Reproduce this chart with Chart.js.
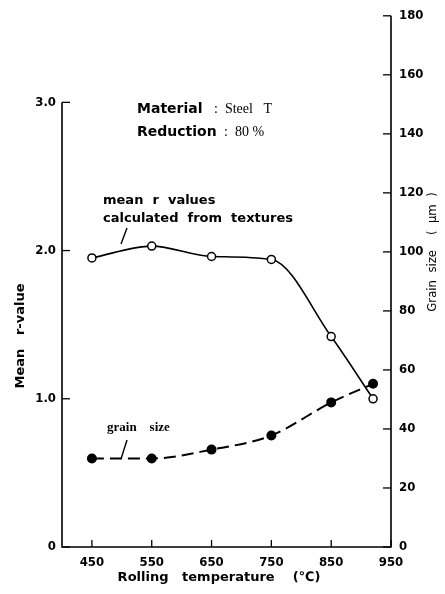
<!DOCTYPE html>
<html>
<head>
<meta charset="utf-8">
<script src="https://cdn.jsdelivr.net/npm/chart.js@4.4.1/dist/chart.umd.min.js"></script>
<style>
  html, body { margin: 0; padding: 0; background: #fff; }
  #wrap { width: 445px; height: 594px; position: relative; }
</style>
</head>
<body>
<div id="wrap"><canvas id="grafico" width="445" height="594"></canvas></div>
<script>
// rolling temperature (C)
let temps = [450, 550, 650, 750, 850, 920];
// mean r-value calculated from textures
let rValues = [1.95, 2.03, 1.96, 1.94, 1.42, 1.0];
// grain size (um)
let grainSize = [30, 30, 33, 37.8, 49, 55.3];

let xTicks = [450, 550, 650, 750, 850, 950];
let rTicks = [0, 1, 2, 3];
let gTicks = [0, 20, 40, 60, 80, 100, 120, 140, 160, 180];

let fonteEixo = { family: 'DejaVu Sans Condensed', size: 13, weight: 'bold' };

function fixaTicks(lista) {
  return function (scale) {
    scale.ticks = lista.map(v => ({ value: v }));
  };
}

// eixos e textos desenhados a mao (ticks para dentro)
let desenhoExtra = {
  id: 'desenhoExtra',
  afterDraw(chart) {
    let c = chart.ctx;
    let x = chart.scales.x, yr = chart.scales.yr, yg = chart.scales.yg;
    let area = chart.chartArea;
    c.save();
    c.strokeStyle = '#000';
    c.lineWidth = 1.6;

    // eixo esquerdo vai so ate 3.0
    let topoR = yr.getPixelForValue(3);
    c.beginPath();
    c.moveTo(area.left, topoR);
    c.lineTo(area.left, area.bottom);
    c.lineTo(area.right, area.bottom);
    c.lineTo(area.right, area.top);
    c.stroke();

    c.lineWidth = 1.3;
    rTicks.forEach(v => {
      let p = yr.getPixelForValue(v);
      c.beginPath(); c.moveTo(area.left, p); c.lineTo(area.left + 8, p); c.stroke();
    });
    gTicks.forEach(v => {
      let p = yg.getPixelForValue(v);
      c.beginPath(); c.moveTo(area.right, p); c.lineTo(area.right - 8, p); c.stroke();
    });
    xTicks.forEach(v => {
      let p = x.getPixelForValue(v);
      c.beginPath(); c.moveTo(p, area.bottom); c.lineTo(p, area.bottom - 7); c.stroke();
    });

    // titulos dos eixos
    c.fillStyle = '#000';
    c.font = 'bold 13px "DejaVu Sans"';
    c.textAlign = 'center';
    c.textBaseline = 'middle';
    c.fillText('Rolling   temperature    (℃)', 219, 578);

    c.save();
    c.translate(21, 336);
    c.rotate(-Math.PI / 2);
    c.fillText('Mean   r-value', 0, 0);
    c.restore();

    c.save();
    c.translate(433, 252);
    c.rotate(-Math.PI / 2);
    c.font = '13px "DejaVu Sans Condensed"';
    c.fillText('Grain  size    (  μm  )', 0, 0);
    c.restore();

    // anotacoes
    c.textAlign = 'left';
    c.font = 'bold 14px "DejaVu Sans"';
    c.fillText('Material', 137, 109);
    c.fillText('Reduction', 137, 132);
    c.font = '14px "Liberation Serif"';
    c.fillText(':  Steel   T', 214, 109);
    c.fillText(':  80 %', 224, 132);

    c.font = 'bold 13px "DejaVu Sans"';
    c.fillText('mean  r  values', 103, 201);
    c.fillText('calculated  from  textures', 103, 219);
    c.font = 'bold 13px "Liberation Serif"';
    c.fillText('grain    size', 107, 428);

    c.lineWidth = 1.4;
    c.beginPath(); c.moveTo(121, 244); c.lineTo(127, 228); c.stroke();
    c.beginPath(); c.moveTo(121, 459); c.lineTo(127, 440); c.stroke();
    c.restore();
  }
};

let dados = {
  datasets: [
    {
      label: 'mean r values',
      data: temps.map((t, i) => ({ x: t, y: rValues[i] })),
      yAxisID: 'yr',
      borderColor: '#000',
      borderWidth: 1.6,
      cubicInterpolationMode: 'monotone',
      pointRadius: 4,
      pointBackgroundColor: '#fff',
      pointBorderColor: '#000',
      pointBorderWidth: 1.5
    },
    {
      label: 'grain size',
      data: temps.map((t, i) => ({ x: t, y: grainSize[i] })),
      yAxisID: 'yg',
      borderColor: '#000',
      borderWidth: 2,
      borderDash: [12, 6],
      cubicInterpolationMode: 'monotone',
      pointRadius: 4,
      pointBackgroundColor: '#000',
      pointBorderColor: '#000'
    }
  ]
};

let opcoes = {
  responsive: false,
  animation: false,
  layout: { padding: { top: 13, left: 0, right: 0, bottom: 0 } },
  plugins: { legend: { display: false }, tooltip: { enabled: false } },
  scales: {
    x: {
      type: 'linear',
      min: 400,
      max: 950,
      afterBuildTicks: fixaTicks(xTicks),
      afterFit(s) { s.height = 47; },
      grid: { display: false, drawTicks: false },
      border: { display: false },
      ticks: { color: '#000', font: fonteEixo, padding: 8 }
    },
    yr: {
      position: 'left',
      min: 0,
      max: 534 / 149,
      afterBuildTicks: fixaTicks(rTicks),
      afterFit(s) { s.width = 62; },
      grid: { display: false, drawTicks: false },
      border: { display: false },
      ticks: {
        color: '#000', font: fonteEixo, padding: 6,
        callback: v => v === 0 ? '0' : v.toFixed(1)
      }
    },
    yg: {
      position: 'right',
      min: 0,
      max: 180,
      afterBuildTicks: fixaTicks(gTicks),
      afterFit(s) { s.width = 54; },
      grid: { display: false, drawTicks: false },
      border: { display: false },
      ticks: { color: '#000', font: fonteEixo, padding: 8 }
    }
  }
};

let ctx = document.getElementById('grafico');
let grafico = new Chart(ctx, {
  type: 'line',
  data: dados,
  options: opcoes,
  plugins: [desenhoExtra]
});
</script>
</body>
</html>
